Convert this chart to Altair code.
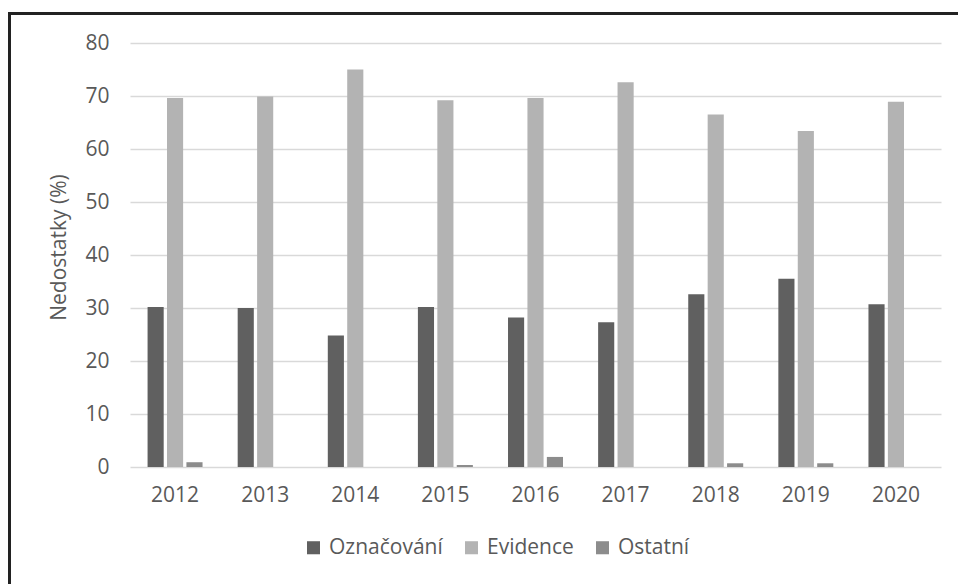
import altair as alt
import pandas as pd

# Share of deficiencies found per year, by category (%)
years = ["2012", "2013", "2014", "2015", "2016", "2017", "2018", "2019", "2020"]
oznacovani = [30.2, 30.0, 24.8, 30.2, 28.2, 27.3, 32.6, 35.5, 30.7]
evidence = [69.6, 69.9, 75.0, 69.2, 69.6, 72.6, 66.5, 63.4, 68.9]
ostatni = [0.9, 0.0, 0.0, 0.4, 1.9, 0.0, 0.7, 0.7, 0.0]

series = ["Označování", "Evidence", "Ostatní"]
colors = ["#606060", "#b3b3b3", "#8c8c8c"]

rows = []
for name, vals in zip(series, [oznacovani, evidence, ostatni]):
    for y, v in zip(years, vals):
        rows.append({"rok": y, "kategorie": name, "hodnota": v})
df = pd.DataFrame(rows)

FONT = "Open Sans"
TXT = "#595959"
FS = 21
W, H = 811, 424

bars = alt.Chart(df).mark_bar().encode(
    x=alt.X("rok:N", sort=years, title=None,
            scale=alt.Scale(paddingInner=0.39, paddingOuter=0.195),
            axis=alt.Axis(labelAngle=0, ticks=False, tickSize=0, domain=False,
                          labelPadding=17, labelFontSize=FS, labelFont=FONT,
                          labelColor=TXT, grid=False)),
    xOffset=alt.XOffset("kategorie:N", sort=series,
                        scale=alt.Scale(paddingInner=0.17, paddingOuter=0)),
    y=alt.Y("hodnota:Q", title="Nedostatky (%)",
            scale=alt.Scale(domain=[0, 80], nice=False),
            axis=alt.Axis(values=[0, 10, 20, 30, 40, 50, 60, 70, 80],
                          ticks=False, tickSize=0, domain=False,
                          labelPadding=21, labelFontSize=FS, labelFont=FONT,
                          labelColor=TXT, gridColor="#d9d9d9", gridWidth=1.6,
                          titleFont=FONT, titleFontSize=FS,
                          titleFontWeight="normal", titleColor=TXT,
                          titleX=-65, titleY=204, titleAngle=270,
                          titleAlign="center", titleBaseline="alphabetic")),
    color=alt.Color("kategorie:N", sort=series,
                    scale=alt.Scale(domain=series, range=colors),
                    legend=alt.Legend(title=None, orient="none",
                                      direction="horizontal",
                                      legendX=173, legendY=494,
                                      symbolType="square", symbolSize=170,
                                      symbolStrokeWidth=0,
                                      labelFont=FONT, labelFontSize=FS,
                                      labelColor=TXT, labelOffset=5,
                                      columnPadding=18)),
)

# Outer chart frame (left and top edges)
frame_left = alt.Chart(df).mark_rule(color="#222222", strokeWidth=3).encode(
    x=alt.value(-120.5), y=alt.value(-30.5), y2=alt.value(H + 140)
)
frame_top = alt.Chart(df).mark_rule(color="#222222", strokeWidth=3).encode(
    x=alt.value(-122), x2=alt.value(W + 40), y=alt.value(-29.5)
)

chart = alt.layer(bars, frame_left, frame_top).properties(
    width=W, height=H,
    autosize=alt.AutoSizeParams(type="none"),
    padding={"left": 130, "top": 43, "right": 17, "bottom": 117},
).configure(background="white", view=alt.ViewConfig(stroke=None))

chart.save("out.html", embed_options={"renderer": "svg", "actions": False})
